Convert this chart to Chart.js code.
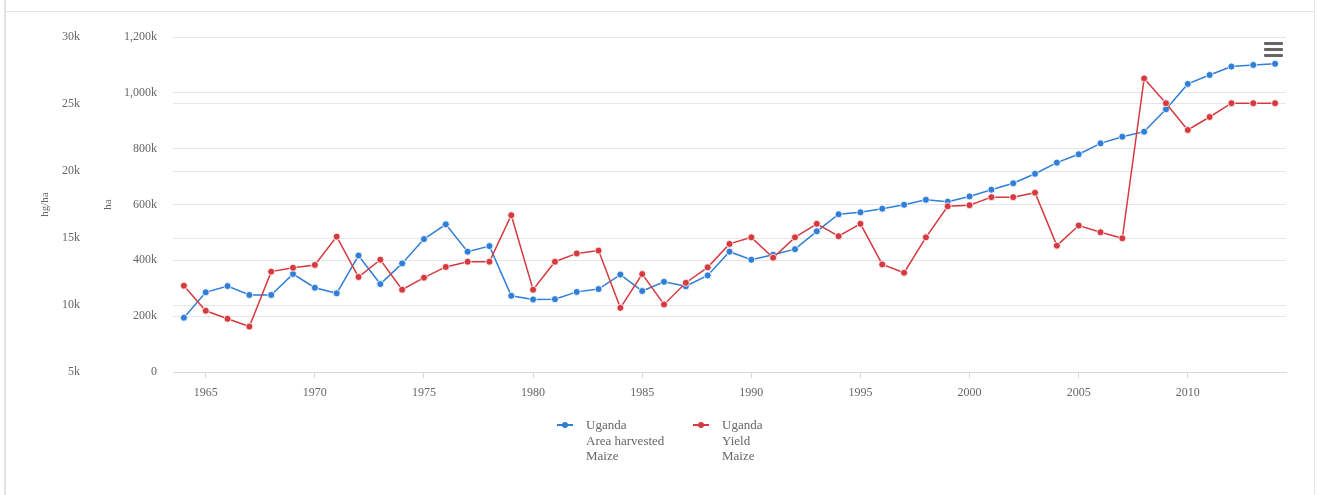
<!DOCTYPE html>
<html>
<head>
<meta charset="utf-8">
<title>Uganda Maize</title>
<script src="https://cdn.jsdelivr.net/npm/chart.js@4.4.1/dist/chart.umd.min.js"></script>
<style>
  html, body { margin: 0; padding: 0; background: #fff; }
  body { width: 1317px; height: 495px; position: relative; overflow: hidden; font-family: "Liberation Serif", serif; }
  #leftLine { position: absolute; left: 4px; top: 0; width: 2px; height: 495px; background: #e2e2e2; }
  #rightLine { position: absolute; left: 1314px; top: 0; width: 1px; height: 495px; background: #e6e6e6; }
  #topLine { position: absolute; left: 5px; top: 11px; width: 1310px; height: 1px; background: #e4e4e4; }
  #wrap { position: absolute; left: 0; top: 0; width: 1317px; height: 495px; }
  .bar { position: absolute; left: 1264px; width: 19px; height: 3px; background: #666; border-radius: 1px; }
  .item { position: absolute; font-size: 13px; line-height: 15.5px; color: #666; }
  .sym { position: absolute; height: 1.5px; width: 16px; }
  .dot { position: absolute; width: 6px; height: 6px; border-radius: 50%; }
</style>
</head>
<body>
<div id="leftLine"></div>
<div id="rightLine"></div>
<div id="topLine"></div>
<div id="wrap"><canvas id="chart"></canvas></div>
<div class="bar" style="top:42px"></div>
<div class="bar" style="top:48px"></div>
<div class="bar" style="top:54px"></div>

<div id="legend">
  <div class="sym" style="left:557px;top:424px;background:#2f7ed8"></div>
  <div class="dot" style="left:562px;top:422px;background:#2f7ed8"></div>
  <div class="item" style="left:586px;top:417px">Uganda<br>Area harvested<br>Maize</div>
  <div class="sym" style="left:693px;top:424px;background:#d63a3f"></div>
  <div class="dot" style="left:698px;top:422px;background:#d63a3f"></div>
  <div class="item" style="left:722px;top:417px">Uganda<br>Yield<br>Maize</div>
</div>

<script>
// Data
const years = [1964,1965,1966,1967,1968,1969,1970,1971,1972,1973,1974,1975,1976,1977,1978,1979,
  1980,1981,1982,1983,1984,1985,1986,1987,1988,1989,1990,1991,1992,1993,1994,1995,1996,1997,1998,1999,
  2000,2001,2002,2003,2004,2005,2006,2007,2008,2009,2010,2011,2012,2013,2014];

// Area harvested, ha
const areaHarvested = [194500,285500,308000,276000,276000,351000,302000,282000,417000,315000,389000,476000,529000,431000,451000,273000,
  260000,261000,287000,297000,349000,290000,323000,307000,346000,431000,402000,420000,440000,504000,565000,572000,585000,599000,617000,610000,
  629000,653000,676000,710000,750000,780000,819000,843000,861000,941000,1032000,1064000,1094000,1100000,1104000];

// Yield, hg/ha
const yieldValues = [11440,9570,8970,8390,12490,12780,12990,15100,12090,13380,11140,12040,12840,13230,13230,16700,
  11140,13230,13850,14060,9790,12310,10040,11660,12810,14560,15050,13530,15050,16060,15130,16060,13030,12410,15050,17370,
  17450,18050,18050,18380,14430,15930,15430,14980,26910,25060,23060,24030,25060,25060,25060];

const xTicks = [1965,1970,1975,1980,1985,1990,1995,2000,2005,2010];

const blue = '#2f7ed8';
const red = '#d63a3f';
const font = { family: '"Liberation Serif", serif', size: 12 };
const gridColor = '#e6e6e6';

function kLabel(v) {
  if (v === 0) return '0';
  return (v / 1000).toLocaleString('en-US') + 'k';
}

const ctx = document.getElementById('chart').getContext('2d');
new Chart(ctx, {
  type: 'line',
  data: {
    datasets: [
      {
        label: 'Uganda Yield Maize',
        data: years.map((y, i) => ({ x: y, y: yieldValues[i] })),
        yAxisID: 'y',
        borderColor: red,
        backgroundColor: red,
        borderWidth: 1.5,
        pointRadius: 3.5,
        pointBorderColor: '#fff',
        pointBorderWidth: 0.8,
        tension: 0,
        order: 0
      },
      {
        label: 'Uganda Area harvested Maize',
        data: years.map((y, i) => ({ x: y, y: areaHarvested[i] })),
        yAxisID: 'y1',
        borderColor: blue,
        backgroundColor: blue,
        borderWidth: 1.5,
        pointRadius: 3.5,
        pointBorderColor: '#fff',
        pointBorderWidth: 0.8,
        tension: 0,
        order: 1
      }
    ]
  },
  options: {
    responsive: true,
    maintainAspectRatio: false,
    animation: false,
    layout: { padding: { left: 35, right: 31, top: 37, bottom: 93 } },
    plugins: { legend: { display: false }, tooltip: { enabled: false } },
    scales: {
      x: {
        type: 'linear',
        min: 1963.5,
        max: 2014.5,
        afterBuildTicks: s => { s.ticks = xTicks.map(v => ({ value: v })); },
        afterFit: s => { s.height = 30; },
        grid: { drawOnChartArea: false, drawTicks: true, tickLength: 6, color: '#d8d8d8' },
        border: { display: true, color: '#d8d8d8' },
        ticks: { color: '#666', font: font, padding: 8, maxRotation: 0, autoSkip: false, callback: v => String(v) }
      },
      y: {
        position: 'left',
        weight: 2,
        min: 5000,
        max: 30000,
        afterFit: s => { s.width = 63; },
        grid: { color: gridColor, drawTicks: false },
        border: { display: false },
        ticks: { stepSize: 5000, color: '#666', font: font, padding: 18, callback: kLabel },
        title: { display: true, text: 'hg/ha', color: '#666', font: { family: font.family, size: 11 }, padding: { top: 4, bottom: 4 } }
      },
      y1: {
        position: 'left',
        weight: 1,
        min: 0,
        max: 1200000,
        afterFit: s => { s.width = 75; },
        grid: { color: gridColor, drawTicks: false },
        border: { display: false },
        ticks: { stepSize: 200000, color: '#666', font: font, padding: 16, callback: kLabel },
        title: { display: true, text: 'ha', color: '#666', font: { family: font.family, size: 11 }, padding: { top: 4, bottom: 4 } }
      }
    }
  }
});
</script>
</body>
</html>
